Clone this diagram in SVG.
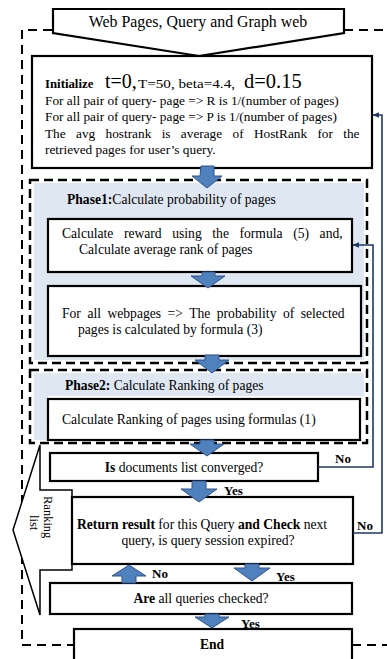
<svg xmlns="http://www.w3.org/2000/svg" width="387" height="659" viewBox="0 0 387 659">
<defs>
<style>
text{font-family:"Liberation Serif","Times New Roman",serif;font-size:13.6px;fill:#000}
.b{font-weight:bold}
.init{font-size:13.3px}
.box{fill:#fff;stroke:#000;stroke-width:2.2}
.dash{fill:none;stroke:#000;stroke-width:2.5;stroke-dasharray:9 5}
.odash{fill:none;stroke:#000;stroke-width:2;stroke-dasharray:9 6}
.barrow{fill:#4f81bd;stroke:#2f528f;stroke-width:1}
.fb{fill:none;stroke:#1f3864;stroke-width:1.6}
.thin{fill:#fff;stroke:#000;stroke-width:1.5}
.lbl{font-weight:bold;font-size:13px}
</style>
<marker id="ah" viewBox="0 0 10 10" refX="9" refY="5" markerWidth="7" markerHeight="7" orient="auto" markerUnits="userSpaceOnUse">
<path d="M0,1 L10,5 L0,9 Z" fill="#1f3864"/>
</marker>
</defs>
<rect width="387" height="659" fill="#fff"/>

<g id="outer-frame">
<path class="odash" d="M52,30 H22 V645 H74"/>
<path class="odash" d="M344,30 H387"/>
<path class="odash" d="M352,645 H387"/>
</g>

<g id="phase1">
<rect x="34" y="183" width="330" height="177" fill="#dfe7f2"/>
<rect class="dash" x="30" y="180" width="337" height="183"/>
<text x="67" y="204"><tspan class="b">Phase1:</tspan>Calculate probability of pages</text>
</g>
<g id="phase2">
<path d="M34,373 H364 V396 H48 V440 H34 Z" fill="#dfe7f2"/>
<rect class="dash" x="30" y="370" width="337" height="73"/>
<text x="65" y="390"><tspan class="b">Phase2:</tspan> Calculate Ranking of pages</text>
</g>

<g id="input">
<path class="box" d="M53,9 H344 V33 L199,56 L53,33 Z"/>
<text x="198" y="27" text-anchor="middle" style="font-size:15.9px">Web Pages, Query and Graph web</text>
</g>

<g id="initialize">
<rect class="box" x="32" y="56" width="340" height="112"/>
<text y="88"><tspan x="45" class="b" style="font-size:12.8px">Initialize</tspan><tspan x="105" style="font-size:20px">t=0,</tspan><tspan x="138" style="font-size:12.5px" textLength="97" lengthAdjust="spacingAndGlyphs">T=50, beta=4.4,</tspan><tspan x="244" style="font-size:20.5px">d=0.15</tspan></text>
<text class="init" x="45" y="105">For all pair of query- page =&gt; R is 1/(number of pages)</text>
<text class="init" x="45" y="121">For all pair of query- page =&gt; P is 1/(number of pages)</text>
<text class="init" x="45" y="138" style="word-spacing:7px">The avg hostrank is average of HostRank for the</text>
<text class="init" x="45" y="154">retrieved pages for user’s query.</text>
</g>

<g id="reward">
<rect class="box" x="48" y="219" width="304" height="53"/>
<text x="62" y="238" style="word-spacing:7.2px">Calculate reward using the formula (5) and,</text>
<text x="79" y="254">Calculate average rank of pages</text>
</g>

<g id="probability">
<rect class="box" x="48" y="286" width="313" height="70"/>
<text x="62" y="318" style="word-spacing:3.1px">For all webpages =&gt; The probability of selected</text>
<text x="78" y="334">pages is calculated by formula (3)</text>
</g>

<g id="ranking">
<rect class="box" x="48" y="399" width="312" height="41"/>
<text x="62" y="424">Calculate Ranking of pages using formulas (1)</text>
</g>

<g id="converged">
<rect class="box" x="50" y="453" width="268" height="28"/>
<text x="184" y="472" text-anchor="middle"><tspan class="b">Is</tspan> documents list converged?</text>
</g>

<g id="ranking-list">
<path class="thin" d="M40,445 V490 H72 V570 H40 V615 L13,530 Z"/>
<text transform="translate(44,496) rotate(90)" style="font-size:12.5px">Ranking</text>
<text transform="translate(30,515) rotate(90)" style="font-size:12.5px">list</text>
</g>

<g id="return-result">
<rect class="box" x="72" y="497" width="281" height="67"/>
<text x="77" y="529"><tspan class="b">Return result</tspan> for this Query <tspan class="b">and Check</tspan> next</text>
<text x="208" y="545" text-anchor="middle">query, is query session expired?</text>
</g>

<g id="all-checked">
<rect class="box" x="50" y="583" width="302" height="31"/>
<text x="201" y="603" text-anchor="middle"><tspan class="b">Are</tspan> all queries checked?</text>
</g>

<g id="end">
<rect class="box" x="74" y="629" width="278" height="40"/>
<text x="212" y="649" text-anchor="middle" class="b">End</text>
</g>

<g id="connectors">
<path class="barrow" d="M201,166 H214 V176 H222 L207,188 L192,176 H200 Z"/>
<path class="barrow" d="M202,272 H215 V276 H225 L208,288 L191,276 H202 Z"/>
<path class="barrow" d="M205,355 H219 V360 H229 L212,373 L195,360 H205 Z"/>
<path class="barrow" d="M200,440 H214 V444 H224 L207,456 L190,444 H200 Z"/>
<path class="barrow" d="M192,481 H206 V489 H217 L199,502 L181,489 H192 Z"/>
<path class="barrow" d="M245,564 H259 V568 H270 L252,581 L234,568 H245 Z"/>
<path class="barrow" d="M122,583 H136 V576 H146 L129,565 L112,576 H122 Z"/>
<path class="barrow" d="M205,614 H219 V617 H229 L212,628 L195,617 H205 Z"/>
<path class="fb" d="M318,467 H373 V245 H353" marker-end="url(#ah)"/>
<path class="fb" d="M353,533 H382 V115 H373" marker-end="url(#ah)"/>
<text x="335" y="463" class="lbl">No</text>
<text x="357" y="530" class="lbl">No</text>
<text x="224" y="495" class="lbl">Yes</text>
<text x="152" y="578" class="lbl">No</text>
<text x="276" y="581" class="lbl">Yes</text>
<text x="241" y="628" class="lbl">Yes</text>
</g>
</svg>
